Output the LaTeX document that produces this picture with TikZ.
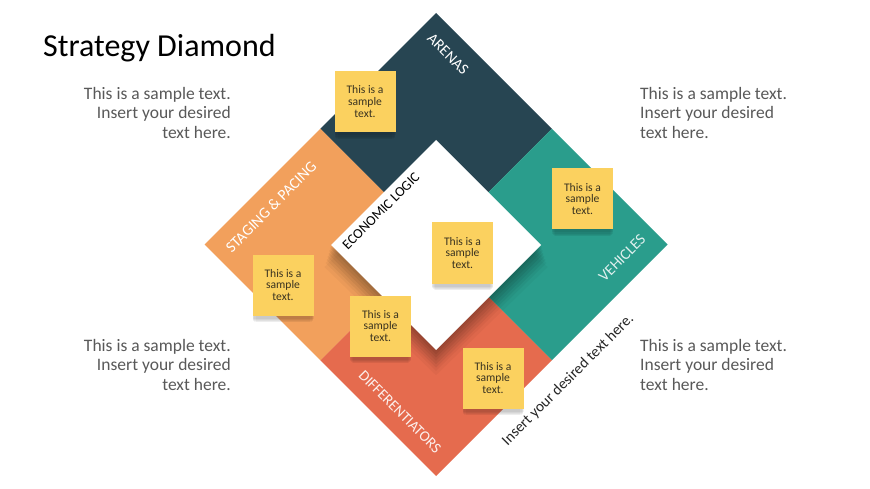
\documentclass[tikz,border=0pt]{standalone}
\usepackage{fontspec}
\setmainfont{Carlito}
\usetikzlibrary{shadows}
\definecolor{cArena}{HTML}{274552}
\definecolor{cVeh}{HTML}{2A9D8C}
\definecolor{cStage}{HTML}{F2A05C}
\definecolor{cDiff}{HTML}{E56B4E}
\definecolor{cNote}{HTML}{FBD15F}
\definecolor{cNoteText}{HTML}{3A3320}
\definecolor{cSide}{HTML}{595959}
\tikzset{
  softshadow/.style={
    general shadow={fill=black,opacity=0.05,shadow yshift=-3pt,shadow scale=1.00},
    general shadow={fill=black,opacity=0.05,shadow yshift=-5pt,shadow scale=0.99},
    general shadow={fill=black,opacity=0.05,shadow yshift=-7pt,shadow scale=0.97},
    general shadow={fill=black,opacity=0.04,shadow yshift=-9pt,shadow scale=0.94},
    general shadow={fill=black,opacity=0.03,shadow yshift=-11pt,shadow scale=0.90}},
  note/.style={softshadow, fill=cNote, minimum width=61pt, minimum height=61pt,
    inner sep=0pt, align=center, text=cNoteText,
    font=\fontsize{11.6}{11.8}\selectfont},
  seglabel/.style={text=white, font=\fontsize{15.5}{17}\selectfont, inner sep=0pt},
  sidetext/.style={text=cSide, font=\fontsize{17.5}{19.5}\selectfont, inner sep=0pt}
}
\begin{document}
\begin{tikzpicture}[x=1pt,y=-1pt]
\useasboundingbox[fill=white] (0,0) rectangle (870,489);

% key points
\coordinate (C) at (436,244.5);
\coordinate (T) at (436,13);
\coordinate (R) at (667.5,244.5);
\coordinate (B) at (436,476);
\coordinate (L) at (204.5,244.5);
\coordinate (TL) at (320.25,128.75);
\coordinate (TR) at (551.75,128.75);
\coordinate (BR) at (551.75,360.25);
\coordinate (BL) at (320.25,360.25);

% quadrants
\fill[cArena] (T) -- (TR) -- (C) -- (TL) -- cycle;
\fill[cVeh] (TR) -- (R) -- (BR) -- (C) -- cycle;
\fill[cDiff] (C) -- (BR) -- (B) -- (BL) -- cycle;
\fill[cStage] (TL) -- (C) -- (BL) -- (L) -- cycle;

% soft shadow of the inner diamond
\foreach \s/\o in {0/0.06,3/0.06,6/0.06,9/0.06,12/0.05,15/0.05,18/0.04,22/0.03} {
  \fill[black,opacity=\o] (436,{141+\s}) -- ({541+\s*0.3},{245+\s}) -- (436,{351+\s*1.1}) -- ({331-\s*0.3},{245+\s}) -- cycle;
}
% inner white diamond
\fill[white] (436,140) -- (541,245) -- (436,350) -- (331,245) -- cycle;
\node[seglabel, text=black, rotate=45, font=\fontsize{14}{16}\selectfont] (econ) at (381,211) {ECONOMIC LOGIC};

% segment labels
\node[seglabel, rotate=-45] (arenas) at (448,54) {ARENAS};
\node[seglabel, rotate=45] (staging) at (271,207) {STAGING \& PACING};
\node[seglabel, rotate=45, text=white!85!cVeh] (vehicles) at (622,258) {VEHICLES};
\node[seglabel, rotate=-45, text=white!90!cDiff, font=\fontsize{15}{17}\selectfont] (diff) at (400,412) {DIFFERENTIATORS};
\node[seglabel, text=black!85, rotate=45, font=\fontsize{15.2}{17}\selectfont] (insert) at (568,380) {Insert your desired text here.};

% sticky notes
\node[note] (n1) at (365,101.5) {This is a\\sample\\text.};
\node[note] (n2) at (582.5,199) {This is a\\sample\\text.};
\node[note] (n3) at (462.5,253) {This is a\\sample\\text.};
\node[note] (n4) at (283,285) {This is a\\sample\\text.};
\node[note] (n5) at (380.5,326) {This is a\\sample\\text.};
\node[note] (n6) at (493,378) {This is a\\sample\\text.};

% title
\node[anchor=base west, inner sep=0pt, font=\fontsize{32}{36}\selectfont] (title) at (43,57) {Strategy Diamond};

% side texts
\node[sidetext, anchor=north east, align=right] (s1) at (231,87) {This is a sample text.\\Insert your desired\\text here.};
\node[sidetext, anchor=north west, align=left] (s2) at (640,87) {This is a sample text.\\Insert your desired\\text here.};
\node[sidetext, anchor=north east, align=right] (s3) at (231,339) {This is a sample text.\\Insert your desired\\text here.};
\node[sidetext, anchor=north west, align=left] (s4) at (640,339) {This is a sample text.\\Insert your desired\\text here.};
\end{tikzpicture}
\end{document}
